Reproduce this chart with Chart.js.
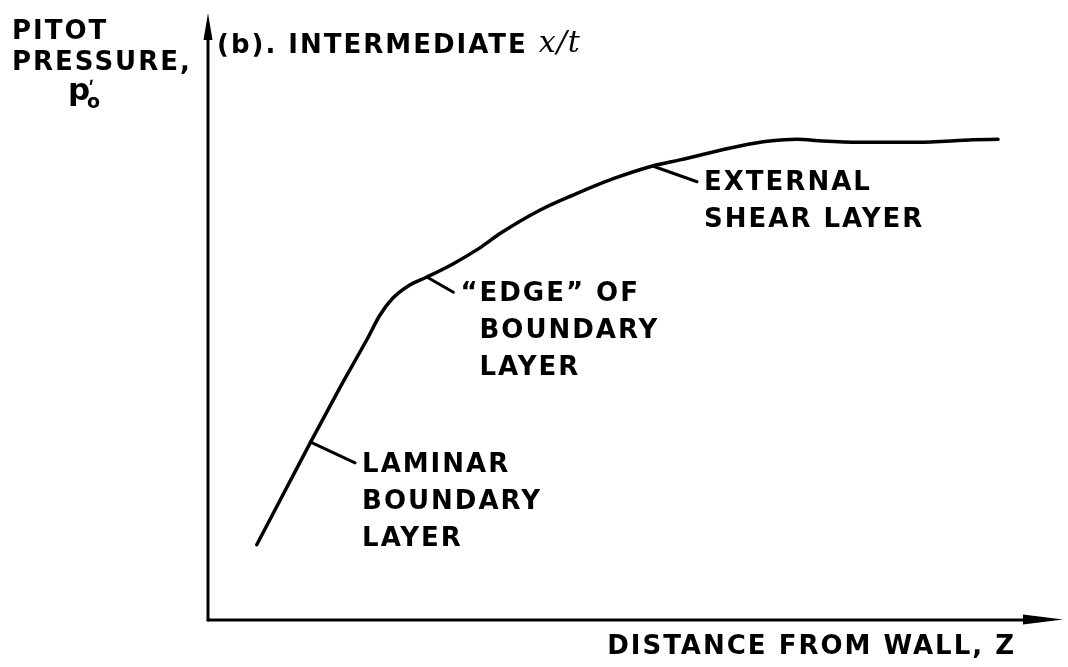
<!DOCTYPE html>
<html>
<head>
<meta charset="utf-8">
<script src="https://cdn.jsdelivr.net/npm/chart.js@4/dist/chart.umd.min.js"></script>
<style>
  html, body { margin: 0; padding: 0; background: #fff; }
  canvas { display: block; }
</style>
</head>
<body>
<canvas id="chart" width="1068" height="667"></canvas>
<script>
// Pitot pressure across the layer, sketch units (distance from wall vs. pressure)
const distance = [5.7, 12.0, 15.4, 18.7, 20.1, 21.6, 23.6, 25.6, 28.7, 31.8, 34.2, 38.8, 42.7, 47.4, 52.0, 55.2, 62.2, 65.7, 68.9, 71.9, 76.3, 82.9, 89.5, 92.4];
const pitotPressure = [12.4, 29.3, 38.2, 46.5, 50.2, 53.0, 55.2, 56.5, 58.7, 61.3, 63.7, 67.5, 70.0, 72.7, 74.8, 75.8, 78.1, 78.9, 79.2, 78.9, 78.7, 78.7, 79.1, 79.2];

// Callouts: point on the curve, end of the leader line, label lines
const calloutFrom = [[12.0, 29.3], [25.6, 56.5], [52.0, 74.8]];
const calloutTo = [[17.2, 25.9], [28.7, 54.0], [57.2, 72.2]];
const calloutText = [
  ['LAMINAR', 'BOUNDARY', 'LAYER'],
  ['\u201CEDGE\u201D OF', 'BOUNDARY', 'LAYER'],
  ['EXTERNAL', 'SHEAR LAYER']
];

// Axis and panel captions
const yAxisTitle = ['PITOT', 'PRESSURE,'];
const xAxisTitle = 'DISTANCE FROM WALL, Z';
const panelTitle = '(b). INTERMEDIATE';
const panelVariable = 'x/t';

const INK = '#000';
const LETTER = 'bold 26px "DejaVu Sans"';

function setLettering(ctx, font, spacing) {
  ctx.font = font;
  ctx.letterSpacing = (spacing === undefined ? 2 : spacing) + 'px';
  ctx.fillStyle = INK;
  ctx.textBaseline = 'middle';
}

// Axes with arrowheads, captions and callout labels
const sketchPlugin = {
  id: 'sketch',
  afterDatasetsDraw(chart) {
    const { ctx, chartArea: a, scales } = chart;
    const x0 = a.left, y0 = a.bottom;
    ctx.save();
    ctx.strokeStyle = INK;
    ctx.fillStyle = INK;
    ctx.lineCap = 'round';

    // vertical axis
    ctx.lineWidth = 3;
    ctx.beginPath();
    ctx.moveTo(x0, y0);
    ctx.lineTo(x0, a.top + 20);
    ctx.stroke();
    ctx.beginPath();
    ctx.moveTo(x0, a.top);
    ctx.lineTo(x0 + 4.5, a.top + 27);
    ctx.lineTo(x0 - 4.5, a.top + 27);
    ctx.closePath();
    ctx.fill();

    // horizontal axis
    ctx.beginPath();
    ctx.moveTo(x0, y0);
    ctx.lineTo(a.right - 30, y0);
    ctx.stroke();
    ctx.beginPath();
    ctx.moveTo(a.right, y0 - 0.5);
    ctx.lineTo(a.right - 40, y0 - 5.5);
    ctx.lineTo(a.right - 40, y0 + 4.5);
    ctx.closePath();
    ctx.fill();

    // callout labels next to the leader ends
    setLettering(ctx, LETTER);
    ctx.textAlign = 'left';
    const lineGap = 37;
    calloutTo.forEach((end, i) => {
      const px = scales.x.getPixelForValue(end[0]) + 7;
      const py = scales.y.getPixelForValue(end[1]) + 2;
      calloutText[i].forEach((line, k) => {
        let lx = px;
        if (k > 0 && calloutText[i][0].startsWith('\u201C')) {
          lx = px + ctx.measureText('\u201C').width;
        }
        ctx.fillText(line, lx, py + k * lineGap);
      });
    });

    // y axis caption
    ctx.textAlign = 'left';
    ctx.fillText(yAxisTitle[0], 12, 32);
    ctx.fillText(yAxisTitle[1], 12, 63);
    // p'_0 symbol
    ctx.textBaseline = 'alphabetic';
    ctx.font = 'bold 31px "DejaVu Sans"';
    ctx.letterSpacing = '0px';
    ctx.fillText('p', 68, 100);
    ctx.font = 'bold 22px "DejaVu Sans"';
    ctx.fillText('\u02B9', 88, 97);
    ctx.font = 'bold 19px "DejaVu Sans"';
    ctx.fillText('o', 87, 108);

    // panel title
    setLettering(ctx, LETTER);
    ctx.fillText(panelTitle, 217, 46);
    const tw = ctx.measureText(panelTitle + ' ').width;
    setLettering(ctx, 'italic 30px "DejaVu Serif"', 1);
    ctx.fillText(panelVariable, 217 + tw, 44);

    // x axis caption
    setLettering(ctx, LETTER);
    ctx.textAlign = 'right';
    ctx.fillText(xAxisTitle, 1016, 647);

    ctx.restore();
  }
};

const curve = distance.map((x, i) => ({ x, y: pitotPressure[i] }));
const leaders = calloutFrom.map((p, i) => ({
  data: [{ x: p[0], y: p[1] }, { x: calloutTo[i][0], y: calloutTo[i][1] }],
  borderColor: INK,
  borderWidth: 3,
  pointRadius: 0,
  tension: 0,
  borderCapStyle: 'round'
}));

new Chart(document.getElementById('chart'), {
  type: 'line',
  data: {
    datasets: [
      {
        data: curve,
        borderColor: INK,
        borderWidth: 3.5,
        pointRadius: 0,
        cubicInterpolationMode: 'monotone',
        borderCapStyle: 'round',
        borderJoinStyle: 'round'
      },
      ...leaders
    ]
  },
  options: {
    responsive: false,
    animation: false,
    devicePixelRatio: 1,
    layout: { padding: { left: 208, right: 5, top: 13, bottom: 47 } },
    plugins: { legend: { display: false }, tooltip: { enabled: false } },
    scales: {
      x: { type: 'linear', min: 0, max: 100, display: false },
      y: { type: 'linear', min: 0, max: 100, display: false }
    }
  },
  plugins: [sketchPlugin]
});
</script>
</body>
</html>
